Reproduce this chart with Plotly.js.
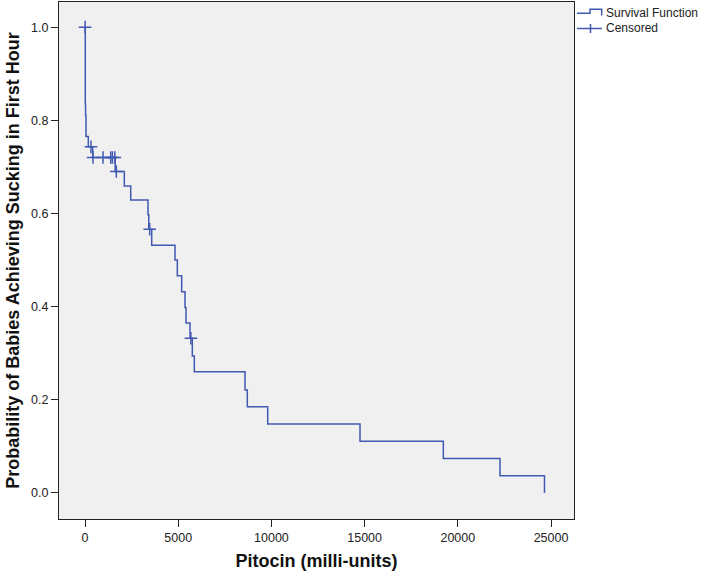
<!DOCTYPE html>
<html>
<head>
<meta charset="utf-8">
<script src="https://cdn.plot.ly/plotly-3.0.1.min.js"></script>
<style>html,body{margin:0;padding:0;background:#fff;}#chart{width:709px;height:580px;}</style>
</head>
<body>
<div id="chart"></div>
<script>
// Kaplan-Meier step points (time of drop, survival after drop)
const times = [0, 15, 30, 54, 177, 413, 1620, 2108, 2452, 3380, 3420, 3578, 4829, 4953, 5186, 5365, 5419, 5633, 5757, 5864, 8584, 8708, 9802, 14754, 19224, 22265, 24650];
const survival = [1.0, 0.835, 0.811, 0.765, 0.743, 0.72, 0.69, 0.659, 0.629, 0.597, 0.566, 0.532, 0.5, 0.466, 0.432, 0.398, 0.365, 0.332, 0.294, 0.26, 0.221, 0.185, 0.148, 0.111, 0.074, 0.037, 0];
// Censored observations
const censorTimes = [5, 322, 429, 966, 1379, 1470, 1600, 1680, 3470, 5680];
const censorSurv = [1.0, 0.743, 0.72, 0.72, 0.72, 0.72, 0.72, 0.69, 0.566, 0.332];
// Tick labels
const xTicks = [0, 5000, 10000, 15000, 20000, 25000];
const yTicks = [0.0, 0.2, 0.4, 0.6, 0.8, 1.0];
const seriesNames = ['Survival Function', 'Censored'];

const blue = '#4159b0';
const font = 'Liberation Sans, Arial, sans-serif';

const traces = [
  {x: times, y: survival, type: 'scatter', mode: 'lines', line: {shape: 'hv', color: blue, width: 1.5}, name: seriesNames[0], hoverinfo: 'x+y'},
  {x: censorTimes, y: censorSurv, type: 'scatter', mode: 'markers', marker: {symbol: 'cross-thin', size: 9, color: blue, line: {color: blue, width: 1.5}}, name: seriesNames[1]}
];

// manual legend (outside the plot, on the right)
const L = 59, W = 515, T = 2, H = 517;
const px = p => (p - L) / W;
const py = p => 1 - (p - T) / H;
const shapes = [
  {type: 'path', xref: 'paper', yref: 'paper', path: `M ${px(577)} ${py(13.3)} L ${px(590)} ${py(13.3)} L ${px(590)} ${py(9.3)} L ${px(601.7)} ${py(9.3)} L ${px(601.7)} ${py(15.5)}`, line: {color: blue, width: 1.5}},
  {type: 'line', xref: 'paper', yref: 'paper', x0: px(577), x1: px(602), y0: py(28.5), y1: py(28.5), line: {color: blue, width: 1.5}},
  {type: 'line', xref: 'paper', yref: 'paper', x0: px(590.5), x1: px(590.5), y0: py(24), y1: py(33), line: {color: blue, width: 1.5}}
];
const annotations = [
  {xref: 'paper', yref: 'paper', x: px(604), y: py(13.3), xanchor: 'left', yanchor: 'middle', text: seriesNames[0], showarrow: false, font: {family: font, size: 12, color: '#222'}},
  {xref: 'paper', yref: 'paper', x: px(604), y: py(28.5), xanchor: 'left', yanchor: 'middle', text: seriesNames[1], showarrow: false, font: {family: font, size: 12, color: '#222'}}
];

const layout = {
  width: 709, height: 580,
  margin: {l: 59, r: 135, t: 2, b: 61},
  paper_bgcolor: '#ffffff',
  plot_bgcolor: '#f0f0f0',
  showlegend: false,
  font: {family: font, size: 12.5, color: '#222'},
  xaxis: {
    range: [-1395, 26234], tickvals: xTicks, ticktext: xTicks.map(v => String(v)),
    ticks: 'outside', ticklen: 7, tickwidth: 1, tickcolor: '#222',
    showgrid: false, zeroline: false, showline: true, linecolor: '#222', linewidth: 1, mirror: true,
    title: {text: 'Pitocin (milli-units)', font: {family: font, size: 18, color: '#111', weight: 'bold'}, standoff: 10}
  },
  yaxis: {
    range: [-0.056, 1.054], tickvals: yTicks, ticktext: yTicks.map(v => v.toFixed(1)),
    ticks: 'outside', ticklen: 7, tickwidth: 1, tickcolor: '#222',
    showgrid: false, zeroline: false, showline: true, linecolor: '#222', linewidth: 1, mirror: true,
    title: {text: 'Probability of Babies Achieving Sucking in First Hour', font: {family: font, size: 18, color: '#111', weight: 'bold'}, standoff: 6}
  },
  shapes: shapes,
  annotations: annotations
};

Plotly.newPlot('chart', traces, layout, {displayModeBar: false, staticPlot: true});
</script>
</body>
</html>
